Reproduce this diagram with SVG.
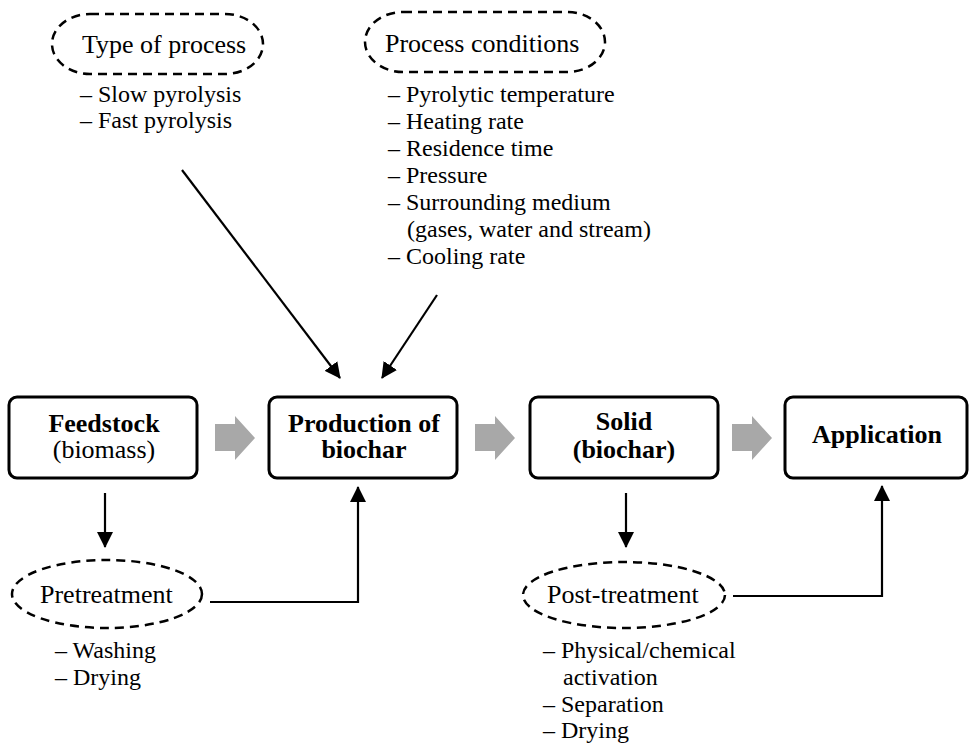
<svg xmlns="http://www.w3.org/2000/svg" width="970" height="745" viewBox="0 0 970 745">
<style>
text{font-family:"Liberation Serif","Times New Roman",serif;fill:#000}
.h{font-size:26px}
.l{font-size:24px}
.b{font-size:26px;font-weight:bold;text-anchor:middle}
.r{font-size:26px;text-anchor:middle}
.box{fill:#fff;stroke:#000;stroke-width:3}
.dash{fill:none;stroke:#000;stroke-width:2.5;stroke-dasharray:9 6}
.con{fill:none;stroke:#000;stroke-width:2.2}
.gray{fill:#a8a8a8}
</style>
<defs>
<marker id="ah" markerUnits="userSpaceOnUse" markerWidth="16" markerHeight="16" refX="15" refY="8" orient="auto">
<path d="M0,0 L16,8 L0,16 z" fill="#000"/>
</marker>
<polygon id="blk" points="0,-14 20,-14 20,-22 40,0 20,22 20,13 0,13"/>
</defs>

<g id="type-of-process">
<rect class="dash" x="52" y="14" width="211" height="60" rx="38" ry="30"/>
<text class="h" x="82" y="53">Type of process</text>
<text class="l" x="80" y="102">– Slow pyrolysis</text>
<text class="l" x="80" y="128">– Fast pyrolysis</text>
</g>

<g id="process-conditions">
<rect class="dash" x="365" y="12" width="240" height="60" rx="38" ry="30"/>
<text class="h" x="385" y="52">Process conditions</text>
<text class="l" x="388" y="102">– Pyrolytic temperature</text>
<text class="l" x="388" y="129">– Heating rate</text>
<text class="l" x="388" y="156">– Residence time</text>
<text class="l" x="388" y="183">– Pressure</text>
<text class="l" x="388" y="210">– Surrounding medium</text>
<text class="l" x="407" y="237">(gases, water and stream)</text>
<text class="l" x="388" y="264">– Cooling rate</text>
</g>

<g id="feedstock">
<rect class="box" x="9" y="397" width="188" height="81" rx="8"/>
<text class="b" x="104" y="432">Feedstock</text>
<text class="r" x="104" y="458">(biomass)</text>
</g>

<g id="production">
<rect class="box" x="269" y="397" width="188" height="81" rx="8"/>
<text class="b" x="364" y="432">Production of</text>
<text class="b" x="364" y="458">biochar</text>
</g>

<g id="solid">
<rect class="box" x="530" y="397" width="188" height="81" rx="8"/>
<text class="b" x="624" y="430">Solid</text>
<text class="b" x="624" y="458">(biochar)</text>
</g>

<g id="application">
<rect class="box" x="785" y="397" width="182" height="81" rx="8"/>
<text class="b" x="877" y="443">Application</text>
</g>

<g id="pretreatment">
<ellipse class="dash" cx="107" cy="594" rx="95" ry="34"/>
<text class="h" x="40" y="603">Pretreatment</text>
<text class="l" x="55" y="658">– Washing</text>
<text class="l" x="55" y="685">– Drying</text>
</g>

<g id="post-treatment">
<ellipse class="dash" cx="624" cy="595" rx="101" ry="33"/>
<text class="h" x="547" y="603">Post-treatment</text>
<text class="l" x="543" y="658">– Physical/chemical</text>
<text class="l" x="563" y="685">activation</text>
<text class="l" x="543" y="712">– Separation</text>
<text class="l" x="543" y="738">– Drying</text>
</g>

<g id="connectors">
<use href="#blk" class="gray" x="215" y="438"/>
<use href="#blk" class="gray" x="475" y="438"/>
<use href="#blk" class="gray" x="732" y="438"/>
<line class="con" x1="182" y1="170" x2="340" y2="378" marker-end="url(#ah)"/>
<line class="con" x1="437" y1="295" x2="382" y2="378" marker-end="url(#ah)"/>
<line class="con" x1="105" y1="493" x2="105" y2="547" marker-end="url(#ah)"/>
<line class="con" x1="626" y1="493" x2="626" y2="547" marker-end="url(#ah)"/>
<path class="con" d="M210,602 H358 V487" marker-end="url(#ah)"/>
<path class="con" d="M733,596 H882 V486" marker-end="url(#ah)"/>
</g>
</svg>
